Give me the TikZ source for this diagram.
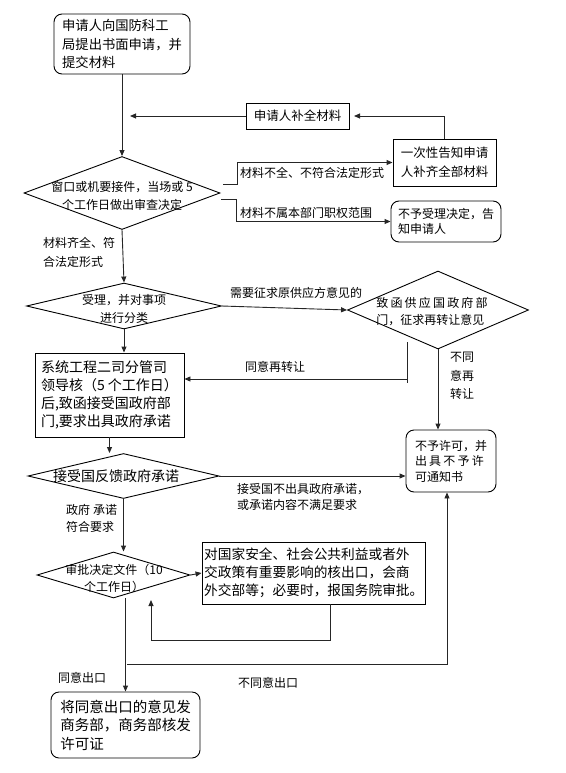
\documentclass[tikz,border=0pt]{standalone}
\usepackage{fontspec}
\newfontfamily\cjk{Noto Sans CJK SC}
\usetikzlibrary{shapes.geometric,arrows.meta,calc}
\newcommand\xgap{\hspace{2.2pt}}
\begin{document}
\begin{tikzpicture}[x=1pt,y=-1pt,
  line/.style={draw=black!85,line width=0.9pt},
  arr/.style={line,-{Triangle[length=6pt,width=5pt]}},
  box/.style={draw=black,line width=0.9pt,inner sep=0pt,align=left},
  rbox/.style={box,rounded corners=8pt},
  dia/.style={diamond,draw=black,line width=0.9pt,inner sep=0pt},
  txt/.style={inner sep=0pt,align=left},
  fa/.style={font=\cjk\fontsize{12}{16}\selectfont},
]
\useasboundingbox (0,0) rectangle (565,773);

% boxes
\node[rbox,minimum width=136,minimum height=60,font=\cjk\fontsize{13.3}{18.5}\selectfont] (b1) at (122,44)
  {申请人向国防科工\\局提出书面申请，并\\提交材料};
\node[box,minimum width=103,minimum height=26,font=\cjk\fontsize{12.5}{16}\selectfont] (bsup) at (297.5,116) {申请人补全材料};
\node[box,minimum width=103,minimum height=47,font=\cjk\fontsize{12.5}{19}\selectfont] (bonce) at (444.5,162.5) {一次性告知申请\\人补齐全部材料};
\node[rbox,minimum width=110,minimum height=41,font=\cjk\fontsize{12}{15}\selectfont] (bno) at (446,221.5) {不予受理决定，告\\知申请人};

% diamond 1
\node[dia,minimum width=196,minimum height=73] (d1) at (122,193) {};
\node[txt,align=center,font=\cjk\fontsize{12}{18}\selectfont] (t1) at (122,196) {窗口或机要接件，当场或 5\\个工作日做出审查决定};

\node[txt,fa,anchor=west] (l1) at (240,173) {材料不全、不符合法定形式};
\node[txt,fa,anchor=west] (l2) at (240,213) {材料不属本部门职权范围};
\node[txt,anchor=west,font=\cjk\fontsize{12}{19}\selectfont] (l3) at (43,252.5) {材料齐全、符\\合法定形式};

% diamond 2
\node[dia,minimum width=195,minimum height=46] (d2) at (124,306) {};
\node[txt,align=center,font=\cjk\fontsize{12}{18}\selectfont] (t2) at (124,309) {受理，并对事项\\进行分类};
\node[txt,fa,anchor=west] (l4) at (230,293) {需要征求原供应方意见的};

% diamond 3
\node[dia,minimum width=181,minimum height=78] (d3) at (438,310) {};
\node[txt,font=\cjk\fontsize{12}{17}\selectfont] (t3) at (432,311.5) {致\xgap 函\xgap 供\xgap 应\xgap 国\xgap 政\xgap 府\xgap 部\\门，征求再转让意见};

% system box
\node[box,minimum width=149,minimum height=84,font=\cjk\fontsize{14}{18}\selectfont] (sys) at (109.5,395)
  {系统工程二司分管司\\领导核（5 个工作日）\\后,致函接受国政府部\\门,要求出具政府承诺};

\node[txt,fa,anchor=west] (l5) at (245,367) {同意再转让};
\node[txt,anchor=west,font=\cjk\fontsize{12}{18.5}\selectfont] (l6) at (450,376) {不同\\意再\\转让};

% permit refusal
\node[rbox,minimum width=90,minimum height=62,font=\cjk\fontsize{12}{15.5}\selectfont] (bperm) at (451,461)
  {不予许可，并\\出\xgap 具\xgap 不\xgap 予\xgap 许\\可通知书};

% diamond 4
\node[dia,minimum width=191,minimum height=45] (d4) at (123.5,476) {};
\node[txt,font=\cjk\fontsize{14}{16}\selectfont] (t4) at (116,476) {接受国反馈政府承诺};
\node[txt,anchor=west,font=\cjk\fontsize{12}{16}\selectfont] (l7) at (237,497) {接受国不出具政府承诺，\\或承诺内容不满足要求};
\node[txt,anchor=west,font=\cjk\fontsize{12}{17}\selectfont] (l8) at (66,518.5) {政府\hspace{3pt}承诺\\符合要求};

% diamond 5
\node[dia,minimum width=153,minimum height=46] (d5) at (113.5,575) {};
\node[txt,align=center,font=\cjk\fontsize{12}{17}\selectfont] (t5) at (114,578.5) {审批决定文件（10\\个工作日）};

\node[box,minimum width=223.5,minimum height=62,font=\cjk\fontsize{13.7}{18}\selectfont] (bbig) at (313.75,573)
  {对国家安全、社会公共利益或者外\\交政策有重要影响的核出口，会商\\外交部等；必要时，报国务院审批。};

\node[rbox,minimum width=149,minimum height=66,font=\cjk\fontsize{14.5}{18.5}\selectfont] (bfin) at (125.5,725)
  {将同意出口的意见发\\商务部，商务部核发\\许可证};

\node[txt,fa,anchor=west] (l9) at (58,678) {同意出口};
\node[txt,fa,anchor=west] (l10) at (238,683) {不同意出口};

% coordinates
\coordinate (c0) at (130,116);
\coordinate (c1) at (354,116);
\coordinate (c2) at (223,184);
\coordinate (c3) at (221,199);
\coordinate (c4) at (407,342);
\coordinate (c5) at (407,383);
\coordinate (c6) at (330,640);
\coordinate (c7) at (151,600);
\coordinate (c8) at (127,664);
\coordinate (c9) at (447,664);

% connectors
\draw[arr] (b1.south) -- (b1.south |- d1.north);
\draw[arr] (bsup.west) -- (c0);
\draw[arr] (bonce.north) |- (c1);
\draw[arr] (c2) -- ++(14,0) |- (bonce.west);
\draw[arr] (c3) -- ++(15,0) |- (bno.west);
\draw[arr] (d1.south) -- (d2.north);
\draw[arr] (d2.east) -- (d3.west);
\draw[arr] (d2.south) -- (d2.south |- sys.north);
\draw[line] (c4) -- (c5);
\draw[arr] (c4 |- 0,379) -- (c4 |- 0,379 -| sys.east);
\draw[arr] (d3.south) -- (d3.south |- bperm.north);
\draw[arr] (sys.south) -- (sys.south |- d4.north);
\draw[arr] (d4.east) -- (d4.east -| bperm.west);
\draw[arr] (d4.south) -- (d4.south |- d5.north);
\draw[arr] (d5.east) -- (bbig.west);
\draw[arr] (c6 |- bbig.south) -- (c6) -| (c7);
\draw[arr] (d5.south -| bfin.north) -- (bfin.north);
\draw[arr] (c8) -- (c9) -- (c9 |- bperm.south);
\end{tikzpicture}
\end{document}
